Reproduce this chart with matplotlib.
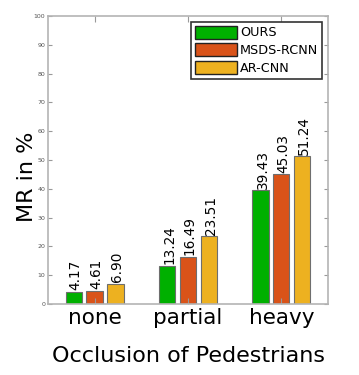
import matplotlib
matplotlib.use("Agg")
import matplotlib.pyplot as plt
import numpy as np

categories = ["none", "partial", "heavy"]
methods = ["OURS", "MSDS-RCNN", "AR-CNN"]
ours = [4.17, 13.24, 39.43]
msds = [4.61, 16.49, 45.03]
arcnn = [6.90, 23.51, 51.24]
series = [ours, msds, arcnn]
colors = ["#00b000", "#d95319", "#edb120"]
yticks = [0, 10, 20, 30, 40, 50, 60, 70, 80, 90, 100]

fig = plt.figure(figsize=(3.59, 3.75), dpi=100)
ax = fig.add_axes([48/359, 1-304/375, 280/359, 288/375])

x = np.arange(len(categories))
width = 0.175
step = 0.222
for i, (vals, col, name) in enumerate(zip(series, colors, methods)):
    pos = x + (i - 1) * step
    bars = ax.bar(pos, vals, width, color=col, edgecolor="#6e6e6e", linewidth=0.8, label=name)
    for p, v in zip(pos, vals):
        ax.text(p + 0.02, v + 0.6, f"{v:.2f}", rotation=90, ha="center", va="bottom",
                fontsize=9.8, color="black")

ax.set_xlim(-0.5, 2.5)
ax.set_ylim(0, 100)
ax.set_yticks(yticks)
ax.set_yticklabels([str(t) for t in yticks], fontsize=4.5, color="#555555")
ax.set_xticks(x)
ax.set_xticklabels(categories, fontsize=15.5)
ax.tick_params(axis="both", direction="in", color="#999999", top=True, right=True)
ax.tick_params(axis="y", length=3, pad=2)
ax.tick_params(axis="x", length=4, pad=3)
for s in ax.spines.values():
    s.set_color("#b4b4b4")
    s.set_linewidth(1.2)

ax.set_xlabel("Occlusion of Pedestrians", fontsize=16, labelpad=13)
ax.set_ylabel("MR in %", fontsize=16)
ax.yaxis.set_label_coords(-0.04, 0.44)

leg = ax.legend(loc="upper right", fontsize=9.2, handlelength=3.3, handleheight=1.2,
                handletextpad=0.25, labelspacing=0.3, borderpad=0.3, borderaxespad=0.45,
                fancybox=False, framealpha=1)
leg.get_frame().set_edgecolor("#333333")
leg.get_frame().set_linewidth(1.2)
for h in leg.legend_handles:
    h.set_edgecolor("#222222")
    h.set_linewidth(1.0)

fig.savefig("out.png", dpi=100)
